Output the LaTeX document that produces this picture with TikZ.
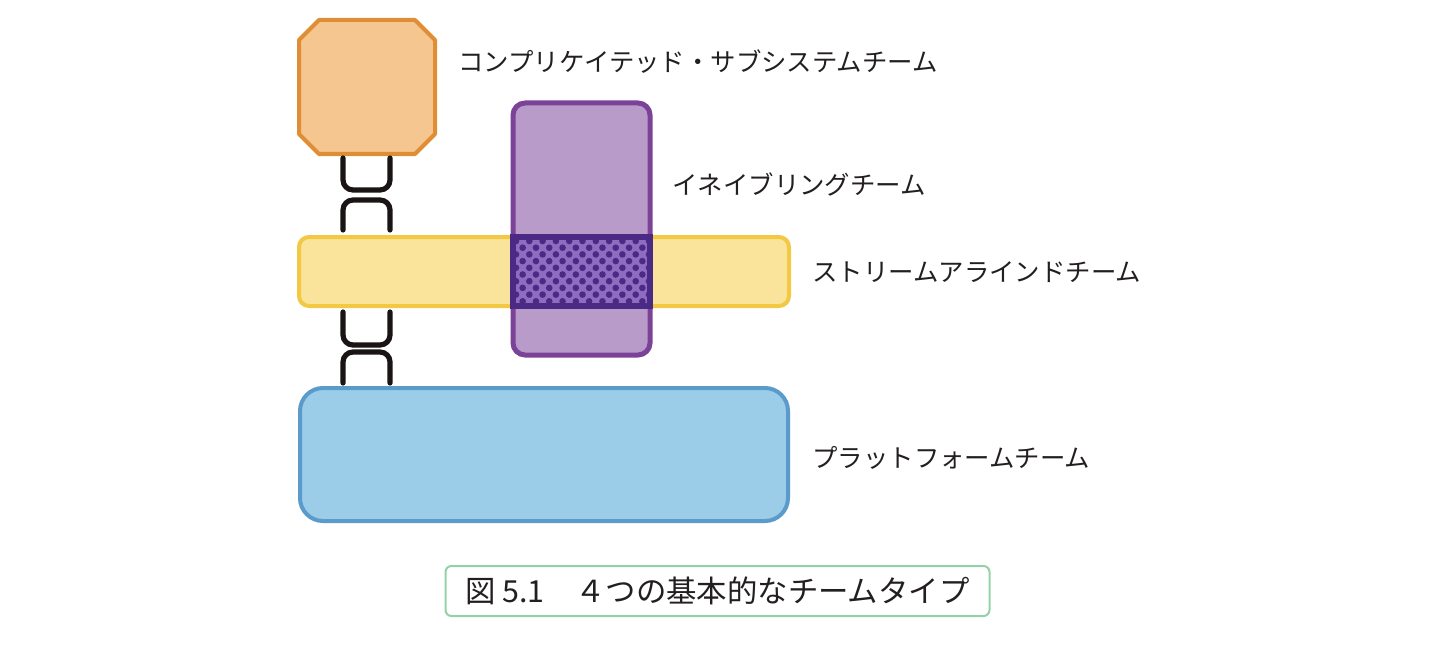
\documentclass[tikz,border=0pt]{standalone}
\usepackage{fontspec}
\newfontfamily\cjk{Noto Sans CJK JP}
\usetikzlibrary{calc}
\definecolor{octfill}{HTML}{F6C690}
\definecolor{octdraw}{HTML}{E08E35}
\definecolor{yelfill}{HTML}{FAE39A}
\definecolor{yeldraw}{HTML}{F3C842}
\definecolor{purfill}{HTML}{B99BC9}
\definecolor{purdraw}{HTML}{7B4397}
\definecolor{ovfill}{HTML}{8E6CC0}
\definecolor{ovdark}{HTML}{4A2A85}
\definecolor{blufill}{HTML}{9BCDE9}
\definecolor{bludraw}{HTML}{5B9BCB}
\definecolor{capdraw}{HTML}{93D1A6}
\definecolor{txt}{HTML}{231F20}
\definecolor{linkcol}{HTML}{1A1414}
\tikzset{
  team/.style={rectangle, line width=2pt, inner sep=0pt, outer sep=0pt},
  teamlabel/.style={anchor=west, inner sep=0pt, text=txt, font=\cjk\fontsize{12.7}{15}\selectfont},
  link/.style={draw=linkcol, line width=2.6pt, line cap=round, rounded corners=5pt},
  caption/.style={draw=capdraw, line width=1pt, rounded corners=3pt, minimum width=272pt, minimum height=25pt, inner sep=0pt, text=txt, font=\cjk\fontsize{15.2}{18}\selectfont},
}
\begin{document}
\begin{tikzpicture}[x=0.5pt,y=-0.5pt]
\useasboundingbox (0,0) rectangle (1440,647);
% bars
\node[team, fill=yelfill, draw=yeldraw, rounded corners=5pt, minimum width=245pt, minimum height=34.5pt] (sa) at (544,271.5) {};
\node[team, fill=purfill, draw=purdraw, line width=2.5pt, rounded corners=6pt, minimum width=68.5pt, minimum height=126pt] (en) at (581.5,229) {};
\node[team, fill=blufill, draw=bludraw, rounded corners=11.5pt, minimum width=244pt, minimum height=66.5pt] (pf) at (544,454.5) {};
% overlap
\fill[ovfill] (en.west |- sa.north) rectangle (en.east |- sa.south);
\begin{scope}
  \clip (en.west |- sa.north) rectangle (en.east |- sa.south);
  \foreach \r in {0,...,11}{
    \foreach \c in {0,...,11}{
      \fill[ovdark] ({516+\c*13.3+mod(\r,2)*6.65},{241+\r*6.7}) circle[radius=3.3];
    }
  }
\end{scope}
\draw[ovdark, line width=2.6pt] (en.west |- sa.north) rectangle (en.east |- sa.south);
% octagon
\node[team, draw=none, minimum width=68pt, minimum height=67pt] (cst) at (367,87) {};
\filldraw[fill=octfill, draw=octdraw, line width=2pt, line join=round]
  ($(cst.north west)+(20,0)$) -- ($(cst.north east)+(-20,0)$) -- ($(cst.north east)+(0,20)$)
  -- ($(cst.south east)+(0,-20)$) -- ($(cst.south east)+(-20,0)$) -- ($(cst.south west)+(20,0)$)
  -- ($(cst.south west)+(0,-20)$) -- ($(cst.north west)+(0,20)$) -- cycle;
% links
\coordinate (La) at ($(cst.south)+(-24,0)$);
\coordinate (Lb) at ($(cst.south)+(23,0)$);
\draw[link] ($(La)+(0,4)$) -- ($(La)+(0,36)$) -- ($(Lb)+(0,36)$) -- ($(Lb)+(0,4)$);
\draw[link] ($(La |- sa.north)+(0,-7)$) -- ($(La |- sa.north)+(0,-37)$) -- ($(Lb |- sa.north)+(0,-37)$) -- ($(Lb |- sa.north)+(0,-7)$);
\draw[link] ($(La |- sa.south)+(0,6)$) -- ($(La |- sa.south)+(0,39)$) -- ($(Lb |- sa.south)+(0,39)$) -- ($(Lb |- sa.south)+(0,6)$);
\draw[link] ($(La |- pf.north)+(0,-5)$) -- ($(La |- pf.north)+(0,-36)$) -- ($(Lb |- pf.north)+(0,-36)$) -- ($(Lb |- pf.north)+(0,-5)$);
% labels
\node[teamlabel] (lcst) at (458,62) {コンプリケイテッド・サブシステムチーム};
\node[teamlabel] (len) at (672,184) {イネイブリングチーム};
\node[teamlabel] (lsa) at (812,272) {ストリームアラインドチーム};
\node[teamlabel] (lpf) at (812,458) {プラットフォームチーム};
% caption
\node[caption] (cap) at (717.5,591) {図 5.1　４つの基本的なチームタイプ};
\end{tikzpicture}
\end{document}
